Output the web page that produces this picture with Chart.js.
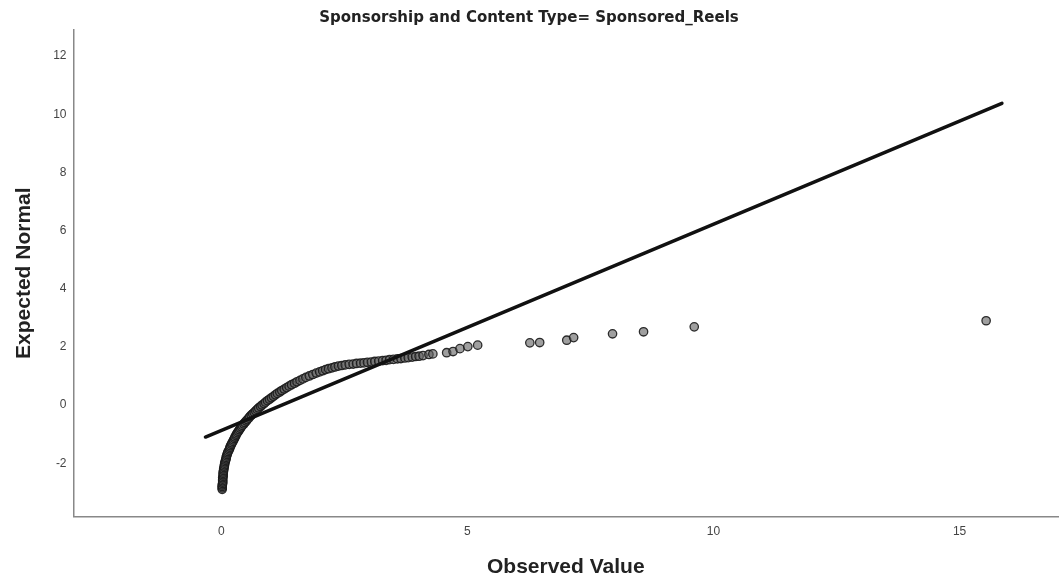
<!DOCTYPE html>
<html>
<head>
<meta charset="utf-8">
<script src="https://cdn.jsdelivr.net/npm/chart.js@4"></script>
<style>
  html, body { margin: 0; padding: 0; background: #fff; }
</style>
</head>
<body>
<canvas id="qqChart" width="1060" height="583"></canvas>
<script>
const observed = [0.02, 0.02, 0.02, 0.02, 0.03, 0.03, 0.03, 0.03, 0.03, 0.04,
  0.04, 0.04, 0.04, 0.05, 0.05, 0.06, 0.06, 0.07, 0.07, 0.08,
  0.09, 0.10, 0.10, 0.11, 0.12, 0.13, 0.14, 0.16, 0.17, 0.18,
  0.19, 0.21, 0.22, 0.24, 0.25, 0.27, 0.28, 0.30, 0.31, 0.33,
  0.35, 0.37, 0.39, 0.41, 0.43, 0.46, 0.48, 0.51, 0.53, 0.56,
  0.58, 0.61, 0.64, 0.67, 0.70, 0.73, 0.76, 0.80, 0.83, 0.87,
  0.90, 0.94, 0.98, 1.02, 1.06, 1.10, 1.14, 1.19, 1.23, 1.28,
  1.33, 1.38, 1.43, 1.49, 1.54, 1.60, 1.66, 1.72, 1.79, 1.86,
  1.93, 2.00, 2.06, 2.12, 2.18, 2.25, 2.31, 2.38, 2.45, 2.52,
  2.60, 2.68, 2.75, 2.83, 2.90, 2.97, 3.05, 3.12, 3.20, 3.28,
  3.35, 3.42, 3.50, 3.58, 3.65, 3.73, 3.80, 3.88, 3.95, 4.02,
  4.10, 4.22, 4.30, 4.58, 4.71, 4.85, 5.01, 5.21, 6.27, 6.47,
  7.02, 7.16, 7.95, 8.58, 9.61, 15.54];
const expected = [-2.90, -2.85, -2.80, -2.75, -2.70, -2.65, -2.60, -2.55, -2.50, -2.45,
  -2.40, -2.35, -2.30, -2.25, -2.20, -2.15, -2.10, -2.05, -2.00, -1.95,
  -1.90, -1.85, -1.80, -1.75, -1.70, -1.65, -1.60, -1.55, -1.50, -1.45,
  -1.40, -1.35, -1.30, -1.25, -1.20, -1.15, -1.10, -1.05, -1.00, -0.95,
  -0.90, -0.85, -0.80, -0.75, -0.70, -0.65, -0.60, -0.55, -0.50, -0.45,
  -0.40, -0.35, -0.30, -0.25, -0.20, -0.15, -0.10, -0.05, 0.00, 0.05,
  0.10, 0.15, 0.20, 0.25, 0.30, 0.35, 0.40, 0.45, 0.50, 0.55,
  0.60, 0.65, 0.70, 0.75, 0.80, 0.85, 0.90, 0.95, 1.00, 1.05,
  1.10, 1.14, 1.18, 1.22, 1.25, 1.28, 1.31, 1.34, 1.36, 1.38,
  1.40, 1.41, 1.43, 1.44, 1.45, 1.47, 1.48, 1.50, 1.51, 1.53,
  1.54, 1.56, 1.57, 1.59, 1.60, 1.62, 1.63, 1.65, 1.67, 1.68,
  1.70, 1.74, 1.76, 1.80, 1.84, 1.94, 2.01, 2.06, 2.14, 2.15,
  2.23, 2.32, 2.45, 2.52, 2.69, 2.90];

// reference line end points
const lineX = [-0.32, 15.86];
const lineY = [-1.10, 10.38];

const xTicks = [0, 5, 10, 15];
const yTicks = [-2, 0, 2, 4, 6, 8, 10, 12];

const pointData = observed.map((v, i) => ({ x: v, y: expected[i] }));
const lineData = lineX.map((v, i) => ({ x: v, y: lineY[i] }));

const ctx = document.getElementById('qqChart').getContext('2d');
new Chart(ctx, {
  type: 'scatter',
  data: {
    datasets: [{
      label: 'Reference',
      data: lineData,
      showLine: true,
      borderColor: '#111',
      borderWidth: 3.5,
      pointRadius: 0,
      borderCapStyle: 'round'
    }, {
      label: 'Observed',
      data: pointData,
      pointRadius: 4.2,
      pointBorderWidth: 1.3,
      pointBorderColor: 'rgba(25,25,25,0.9)',
      pointBackgroundColor: 'rgba(95,95,95,0.6)'
    }]
  },
  options: {
    responsive: false,
    animation: false,
    layout: { autoPadding: false, padding: { right: 2, left: 0, top: 0, bottom: 0 } },
    plugins: {
      legend: { display: false },
      tooltip: { enabled: false },
      title: {
        display: true,
        text: 'Sponsorship and Content Type= Sponsored_Reels',
        color: '#222',
        font: { family: 'DejaVu Sans', size: 15, weight: 'bold' },
        padding: { top: 9, bottom: 3 }
      }
    },
    scales: {
      x: {
        type: 'linear',
        min: -3,
        max: 17,
        afterBuildTicks: s => { s.ticks = xTicks.map(v => ({ value: v })); },
        afterFit: s => { s.paddingRight = 0; },
        grid: { display: false, drawTicks: false },
        border: { display: true, color: '#888', width: 1.5 },
        ticks: { color: '#444', padding: 8, font: { family: 'Liberation Sans', size: 12 } },
        title: {
          display: true,
          text: 'Observed Value',
          color: '#222',
          font: { family: 'Liberation Sans', size: 21, weight: 'bold' },
          padding: { top: 8, bottom: 3 }
        }
      },
      y: {
        type: 'linear',
        min: -3.83,
        max: 12.9,
        afterBuildTicks: s => { s.ticks = yTicks.map(v => ({ value: v })); },
        grid: { display: false, drawTicks: false },
        border: { display: true, color: '#888', width: 1.5 },
        ticks: { color: '#444', padding: 7, font: { family: 'Liberation Sans', size: 12 } },
        title: {
          display: true,
          text: 'Expected Normal',
          color: '#222',
          font: { family: 'Liberation Sans', size: 21, weight: 'bold' },
          padding: { top: 12, bottom: 9 }
        }
      }
    }
  }
});
</script>
</body>
</html>
